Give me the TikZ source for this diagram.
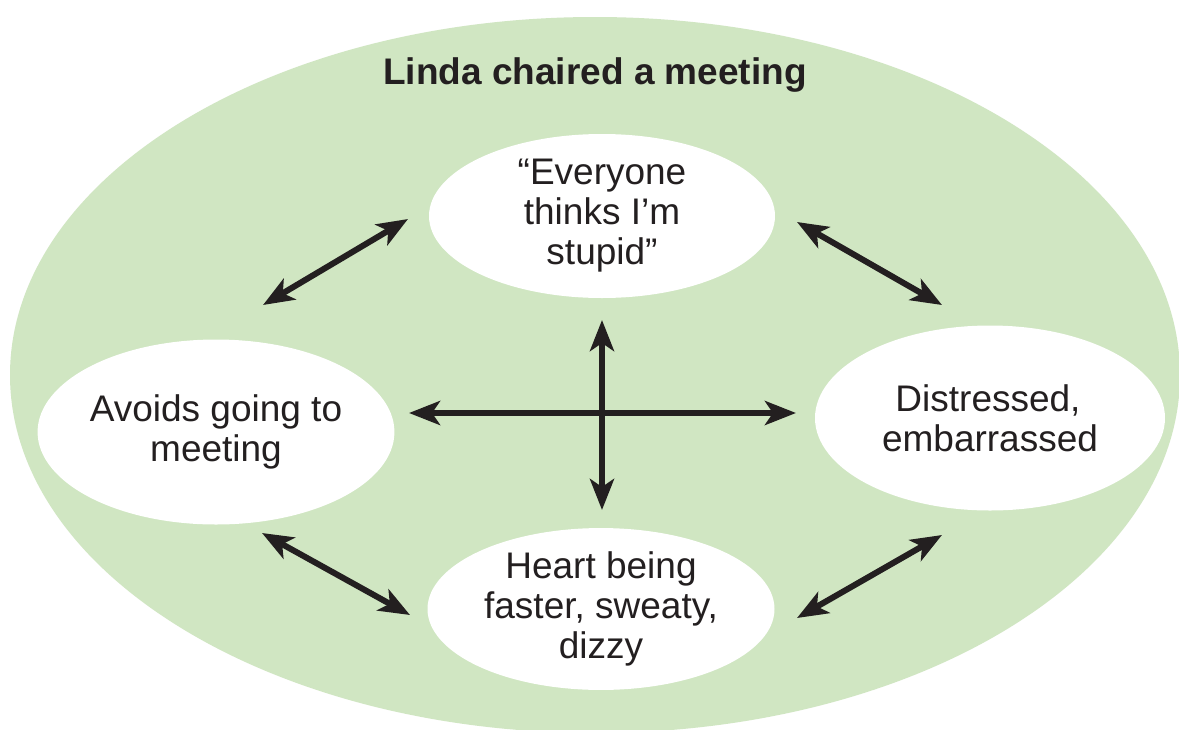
\documentclass[tikz,border=0pt]{standalone}
\usepackage{fontspec}
\setmainfont{Liberation Sans}
\usetikzlibrary{arrows.meta,shapes.geometric}
\definecolor{bggreen}{RGB}{208,230,194}
\definecolor{arrowdark}{RGB}{35,31,32}
\tikzset{
  bubble/.style={ellipse, fill=white, inner sep=0pt, align=center, font=\fontsize{37}{40}\selectfont, text=arrowdark},
  dbl/.style={draw=arrowdark, line width=6pt, {Stealth[length=31pt,width=24pt,inset=8pt]}-{Stealth[length=31pt,width=24pt,inset=8pt]}}
}
\begin{document}
\begin{tikzpicture}[x=1pt,y=-1pt]
\useasboundingbox (0,0) rectangle (1179,729);
\fill[white] (0,0) rectangle (1179,729);
\fill[bggreen] (595,375) ellipse [x radius=585, y radius=358];
\node[font=\bfseries\fontsize{37}{40}\selectfont, text=arrowdark] (title) at (595,75) {Linda chaired a meeting};
\node[bubble, minimum width=346pt, minimum height=164pt] (T) at (602,216) {“Everyone\\thinks I’m\\stupid”};
\node[bubble, minimum width=347pt, minimum height=185pt] (L) at (216,432) {Avoids going to\\meeting};
\node[bubble, minimum width=350pt, minimum height=185pt] (R) at (990,418) {\hspace*{-4pt}Distressed,\\embarrassed};
\node[bubble, minimum width=347pt, minimum height=158pt] (B) at (601,609) {Heart being\\faster, sweaty,\\dizzy};
\coordinate (tl1) at (408,219);
\coordinate (tl2) at (263,305);
\coordinate (tr1) at (797,222);
\coordinate (tr2) at (942,305);
\coordinate (bl1) at (262,533);
\coordinate (bl2) at (410,615);
\coordinate (br1) at (797,618);
\coordinate (br2) at (942,535);
\coordinate (h1) at (409,413);
\coordinate (h2) at (796,413);
\coordinate (v1) at (602,320);
\coordinate (v2) at (602,510);
\draw[dbl] (tl2) -- (tl1);
\draw[dbl] (tr1) -- (tr2);
\draw[dbl] (bl1) -- (bl2);
\draw[dbl] (br1) -- (br2);
\draw[dbl] (h1) -- (h2);
\draw[dbl] (v1) -- (v2);
\end{tikzpicture}
\end{document}
